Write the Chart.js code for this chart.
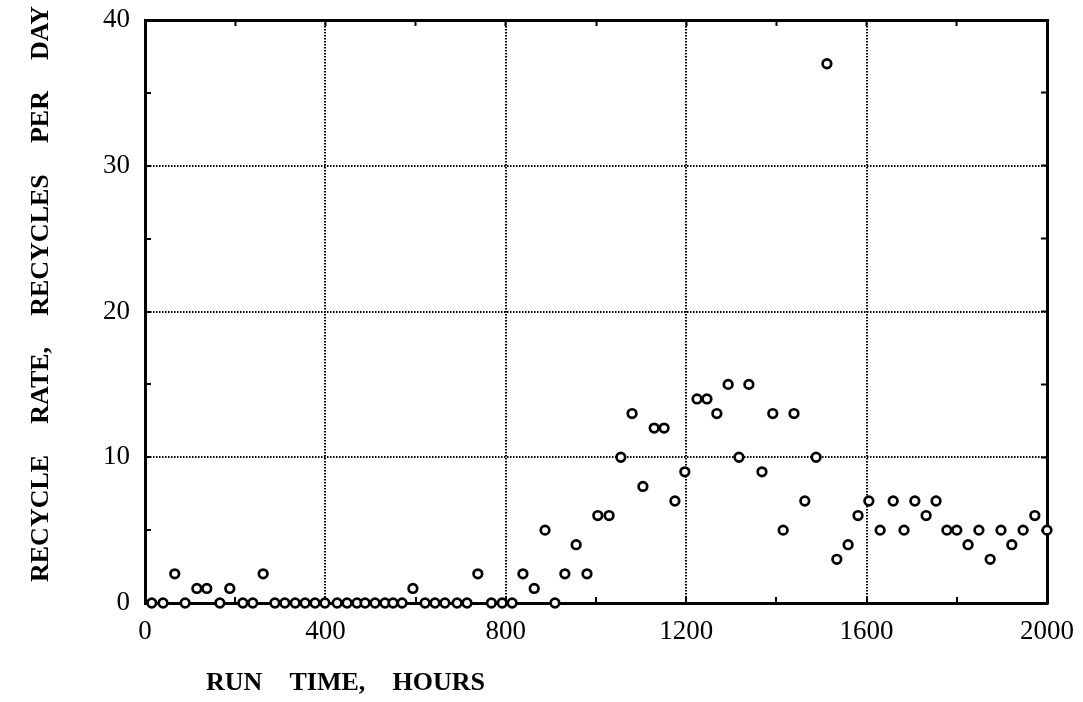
<!DOCTYPE html>
<html>
<head>
<meta charset="utf-8">
<script src="https://cdn.jsdelivr.net/npm/chart.js@4/dist/chart.umd.min.js"></script>
<style>
  html, body { margin: 0; padding: 0; background: #fff; }
  #wrap { width: 1083px; height: 702px; position: relative; }
</style>
</head>
<body>
<div id="wrap"><canvas id="chart"></canvas></div>
<script>
// Run time (hours) of each daily reading
const runHours = [
  15, 40, 66, 89, 115, 137, 166, 188, 217, 239,
  262, 288, 310, 333, 355, 377, 399, 426, 448, 470,
  488, 510, 532, 550, 570, 594, 621, 643, 665, 692,
  714, 738, 768, 792, 814, 838, 863, 887, 909, 931,
  956, 980, 1004, 1029, 1055, 1080, 1104, 1129, 1151, 1175,
  1197, 1224, 1246, 1268, 1293, 1317, 1339, 1368, 1392, 1415,
  1439, 1463, 1488, 1512, 1534, 1559, 1581, 1605, 1630, 1659,
  1683, 1707, 1732, 1754, 1778, 1800, 1825, 1849, 1874, 1898,
  1922, 1947, 1973, 2000
];

// Recycles per day at each reading
const recyclesPerDay = [
  0, 0, 2, 0, 1, 1, 0, 1, 0, 0,
  2, 0, 0, 0, 0, 0, 0, 0, 0, 0,
  0, 0, 0, 0, 0, 1, 0, 0, 0, 0,
  0, 2, 0, 0, 0, 2, 1, 5, 0, 2,
  4, 2, 6, 6, 10, 13, 8, 12, 12, 7,
  9, 14, 14, 13, 15, 10, 15, 9, 13, 5,
  13, 7, 10, 37, 3, 4, 6, 7, 5, 7,
  5, 7, 6, 7, 5, 5, 4, 5, 3, 5,
  4, 5, 6, 5
];

const xTickLabels = ['0', '400', '800', '1200', '1600', '2000'];
const yTickLabels = ['0', '10', '20', '30', '40'];
const xTitleWords = ['RUN', 'TIME,', 'HOURS'];
const yTitleWords = ['RECYCLE', 'RATE,', 'RECYCLES', 'PER', 'DAY'];

const points = runHours.map((h, i) => ({ x: h, y: recyclesPerDay[i] }));

const SERIF = '"Liberation Serif", "DejaVu Serif", serif';

// Draw a row of words spread evenly over a given length
function drawSpreadWords(ctx, words, length) {
  const widths = words.map(w => ctx.measureText(w).width);
  const total = widths.reduce((a, b) => a + b, 0);
  const gap = (length - total) / (words.length - 1);
  let x = 0;
  words.forEach((w, i) => {
    ctx.fillText(w, x, 0);
    x += widths[i] + gap;
  });
}

const axisTitles = {
  id: 'axisTitles',
  afterDraw(chart) {
    const { ctx, chartArea } = chart;
    ctx.save();
    ctx.fillStyle = '#000';
    ctx.textBaseline = 'middle';
    ctx.textAlign = 'left';
    ctx.font = 'bold 26px ' + SERIF;

    // horizontal axis title, below the tick labels
    ctx.save();
    ctx.translate(chartArea.left + 61, chartArea.bottom + 80);
    drawSpreadWords(ctx, xTitleWords, 279);
    ctx.restore();

    // vertical axis title, reading upward
    ctx.save();
    ctx.translate(chartArea.left - 104, chartArea.bottom - 21);
    ctx.rotate(-Math.PI / 2);
    drawSpreadWords(ctx, yTitleWords, 576);
    ctx.restore();

    ctx.restore();
  }
};

const majorX = v => v % 400 === 0;
const majorY = v => v % 10 === 0;
const GRID_DOT = '#000';
const CLEAR = 'rgba(0,0,0,0)';

new Chart(document.getElementById('chart'), {
  type: 'scatter',
  data: {
    datasets: [{
      data: points,
      showLine: false,
      pointStyle: 'circle',
      pointRadius: 4.3,
      pointBorderWidth: 2.7,
      pointBorderColor: '#000',
      pointBackgroundColor: '#fff',
      clip: false
    }]
  },
  plugins: [axisTitles],
  options: {
    responsive: true,
    maintainAspectRatio: false,
    animation: false,
    events: [],
    layout: { padding: 0 },
    plugins: {
      legend: { display: false },
      tooltip: { enabled: false }
    },
    scales: {
      x: {
        type: 'linear',
        position: 'bottom',
        min: 0,
        max: 2000,
        afterFit: s => { s.height = 99; s.paddingLeft = 0; s.paddingRight = 0; },
        ticks: {
          stepSize: 200,
          autoSkip: false,
          maxRotation: 0,
          padding: 19,
          color: '#000',
          font: { family: SERIF, size: 27 },
          callback: v => xTickLabels.includes(String(v)) ? String(v) : ''
        },
        grid: {
          color: c => {
            const v = c.tick ? c.tick.value : 0;
            return (majorX(v) && v > 0 && v < 2000) ? GRID_DOT : CLEAR;
          },
          lineWidth: 2,
          tickLength: -6,
          tickColor: '#000',
          tickWidth: 2
        },
        border: { display: true, color: '#000', width: 3, dash: [1.5, 1.5] }
      },
      xTop: {
        type: 'linear',
        position: 'top',
        min: 0,
        max: 2000,
        afterFit: s => { s.height = 20; s.paddingLeft = 0; s.paddingRight = 0; },
        ticks: { stepSize: 200, display: false },
        grid: { drawOnChartArea: false, tickLength: -6, tickColor: '#000', tickWidth: 2 },
        border: { display: true, color: '#000', width: 3 }
      },
      y: {
        type: 'linear',
        position: 'left',
        min: 0,
        max: 40,
        afterFit: s => { s.width = 145; s.paddingTop = 0; s.paddingBottom = 0; },
        ticks: {
          stepSize: 5,
          autoSkip: false,
          padding: 21,
          color: '#000',
          font: { family: SERIF, size: 27 },
          callback: v => yTickLabels.includes(String(v)) ? String(v) : ''
        },
        grid: {
          color: c => {
            const v = c.tick ? c.tick.value : 0;
            return (majorY(v) && v > 0 && v < 40) ? GRID_DOT : CLEAR;
          },
          lineWidth: 2,
          tickLength: -6,
          tickColor: '#000',
          tickWidth: 2
        },
        border: { display: true, color: '#000', width: 3, dash: [1.5, 1.5] }
      },
      yRight: {
        type: 'linear',
        position: 'right',
        min: 0,
        max: 40,
        afterFit: s => { s.width = 36; s.paddingTop = 0; s.paddingBottom = 0; },
        ticks: { stepSize: 5, display: false },
        grid: { drawOnChartArea: false, tickLength: -6, tickColor: '#000', tickWidth: 2 },
        border: { display: true, color: '#000', width: 3 }
      }
    }
  }
});
</script>
</body>
</html>
